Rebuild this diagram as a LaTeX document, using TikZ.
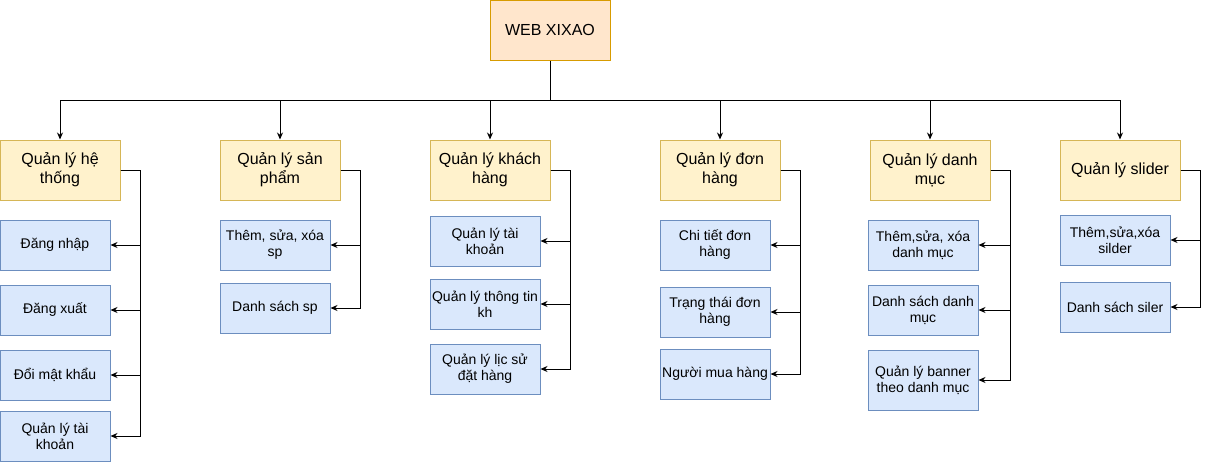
\documentclass[tikz,border=0pt]{standalone}
\usepackage{fontspec}
\setmainfont{Liberation Sans}
\usetikzlibrary{arrows.meta}

\definecolor{rootfill}{HTML}{FFE6CC}
\definecolor{rootline}{HTML}{D79B00}
\definecolor{groupfill}{HTML}{FFF2CC}
\definecolor{groupline}{HTML}{D6B656}
\definecolor{taskfill}{HTML}{DAE8FC}
\definecolor{taskline}{HTML}{6C8EBF}

\begin{document}
\begin{tikzpicture}[x=1pt,y=-1pt,line width=1pt,>={Stealth[length=7pt,width=6pt]},
	root/.style={draw=rootline,fill=rootfill,minimum width=120pt,minimum height=60pt,font=\fontsize{16}{19}\selectfont},
	group/.style={draw=groupline,fill=groupfill,minimum width=120pt,minimum height=60pt,align=center,font=\fontsize{16}{19}\selectfont},
	task/.style={draw=taskline,fill=taskfill,minimum width=110pt,minimum height=50pt,inner sep=0pt,align=center,font=\fontsize{14}{16}\selectfont}]
	\useasboundingbox (0,0) rectangle (1210,463);

	\node[root] (web) at (550,30) {WEB XIXAO};

	\node[group] (ht) at (60,170) {Quản lý hệ\\thống};
	\node[group] (sp) at (280,170) {Quản lý sản\\phẩm};
	\node[group] (kh) at (490,170) {Quản lý khách\\hàng};
	\node[group] (dh) at (720,170) {Quản lý đơn\\hàng};
	\node[group] (dm) at (930,170) {Quản lý danh\\mục};
	\node[group] (sl) at (1120,170) {Quản lý slider};

	\node[task] (ht1) [below of=ht,node distance=75pt,xshift=-5pt] {Đăng nhập};
	\node[task] (ht2) [below of=ht1,node distance=65pt] {Đăng xuất};
	\node[task] (ht3) [below of=ht2,node distance=65pt] {Đổi mật khẩu};
	\node[task] (ht4) [below of=ht3,node distance=61pt] {Quản lý tài\\khoản};

	\node[task] (sp1) [below of=sp,node distance=75pt,xshift=-5pt] {Thêm, sửa, xóa\\sp};
	\node[task] (sp2) [below of=sp1,node distance=63pt] {Danh sách sp};

	\node[task] (kh1) [below of=kh,node distance=71pt,xshift=-5pt] {Quản lý tài\\khoản};
	\node[task] (kh2) [below of=kh1,node distance=63pt] {Quản lý thông tin\\kh};
	\node[task] (kh3) [below of=kh2,node distance=65pt] {Quản lý lịc sử\\đặt hàng};

	\node[task] (dh1) [below of=dh,node distance=75pt,xshift=-5pt] {Chi tiết đơn\\hàng};
	\node[task] (dh2) [below of=dh1,node distance=67pt] {Trạng thái đơn\\hàng};
	\node[task] (dh3) [below of=dh2,node distance=62pt] {Người mua hàng};

	\node[task] (dm1) [below of=dm,node distance=75pt,xshift=-7pt] {Thêm,sửa, xóa\\danh mục};
	\node[task] (dm2) [below of=dm1,node distance=65pt] {Danh sách danh\\mục};
	\node[task,minimum height=60pt] (dm3) [below of=dm2,node distance=70pt] {Quản lý banner\\theo danh mục};

	\node[task] (sl1) [below of=sl,node distance=70pt,xshift=-5pt] {Thêm,sửa,xóa\\silder};
	\node[task] (sl2) [below of=sl1,node distance=67pt] {Danh sách siler};

	\coordinate (bus) at (550,100);
	\draw (web.south) -- (bus);
	\foreach \g in {ht,sp,kh,dh,dm,sl}
		\draw[->] (bus) -| (\g);

	\foreach \g/\n in {ht/4,sp/2,kh/3,dh/3,dm/3,sl/2}
		\foreach \i in {1,...,\n}
			\draw[->] (\g.east) -- ++(20,0) |- (\g\i);
\end{tikzpicture}
\end{document}
